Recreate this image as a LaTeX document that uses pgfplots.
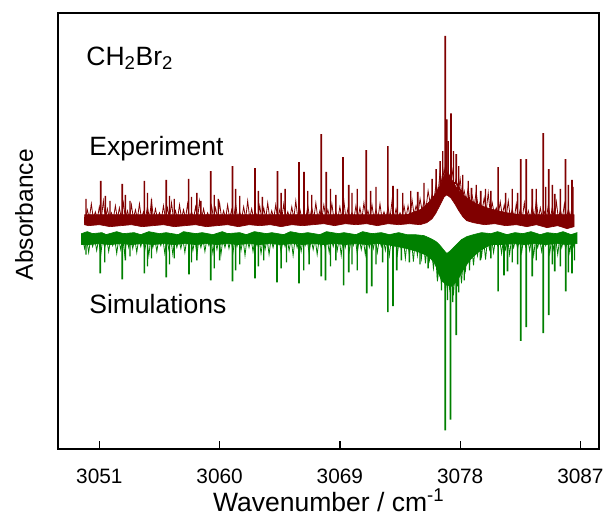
\documentclass[border=0pt]{standalone}
\usepackage{fontspec}
\setmainfont{Liberation Sans}
\usepackage{pgfplots}
\pgfplotsset{compat=1.18}
\definecolor{expred}{RGB}{128,0,0}
\definecolor{simgreen}{RGB}{0,128,0}
\begin{document}
\begin{tikzpicture}
\begin{axis}[
  scale only axis, width=408pt, height=329pt,
  xmin=3047.93, xmax=3088.4, ymin=0, ymax=438.7,
  xtick={3051,3060,3069,3078,3087}, ytick=\empty,
  xtick pos=bottom, tick align=inside,
  major tick length=6pt,
  every tick/.style={black, line width=1pt},
  axis line style={line width=1.3pt},
  /pgf/number format/assume math mode=true,
  /pgf/number format/1000 sep={},
  xticklabel style={font=\fontsize{15.7}{18}\selectfont, yshift=-11pt},
  xlabel={Wavenumber / cm\textsuperscript{-1}},
  xlabel style={font=\fontsize{20}{24}\selectfont, at={(axis description cs:0.5,-0.1436)}, anchor=base},
  ylabel={Absorbance},
  ylabel style={font=\fontsize{18.5}{22}\selectfont, at={(axis description cs:-0.0472,0.538)}, anchor=base},
]
% Experiment: core band
\addplot[draw=expred, fill=expred, line width=0.5pt] coordinates {
(3049.88,226) (3049.9,236) (3074.0,236) (3074.4,238) (3075.0,241) (3075.5,246) (3076.0,254) (3076.4,262) (3076.7,272) (3076.9,278) (3077.2,276) (3077.5,268) (3077.9,260) (3078.3,255) (3078.8,250) (3079.4,246) (3080.0,243) (3080.8,240) (3081.5,238) (3082.5,236) (3086.52,236)
(3086.52,224) (3086.0,222) (3085.3,225) (3084.5,223) (3083.7,226) (3083.0,224) (3082.2,226) (3081.4,225) (3080.6,227) (3079.8,226) (3079.0,228) (3078.5,230) (3078.2,234) (3077.9,240) (3077.6,247) (3077.3,253) (3077.0,256) (3076.8,254) (3076.5,246) (3076.2,238) (3075.9,232) (3075.5,228) (3075.0,226) (3074.2,227) (3073.4,226) (3072.6,227) (3071.8,225) (3071.0,227) (3070.2,226) (3069.4,227) (3068.6,225) (3067.8,227) (3067.0,226) (3066.2,225) (3065.4,226) (3064.6,224) (3063.8,226) (3063.0,225) (3062.2,226) (3061.4,224) (3060.6,226) (3059.8,225) (3059.0,224) (3058.2,226) (3057.4,225) (3056.6,224) (3055.8,226) (3055.0,225) (3054.2,224) (3053.4,226) (3052.6,225) (3051.8,224) (3051.0,226) (3050.2,225) (3049.88,226)
};
% Experiment: noise
\addplot[draw=expred, line width=0.6pt] coordinates {
(3049.95,232) (3050.10,241) (3050.25,232) (3050.40,247) (3050.55,232) (3050.70,239) (3050.85,232) (3051.00,244) (3051.15,232) (3051.30,250) (3051.45,232) (3051.60,242) (3051.75,232) (3051.90,238) (3052.05,232) (3052.20,245) (3052.35,232) (3052.50,243) (3052.65,232) (3052.80,248) (3052.95,232) (3053.10,240) (3053.25,232) (3053.40,246) (3053.55,232) (3053.70,241) (3053.85,232) (3054.00,247) (3054.15,232) (3054.30,239) (3054.45,232) (3054.60,244) (3054.75,232) (3054.90,250) (3055.05,232) (3055.20,242) (3055.35,232) (3055.50,238) (3055.65,232) (3055.80,245) (3055.95,232) (3056.10,243) (3056.25,232) (3056.40,248) (3056.55,232) (3056.70,240) (3056.85,232) (3057.00,246) (3057.15,232) (3057.30,241) (3057.45,232) (3057.60,247) (3057.75,232) (3057.90,239) (3058.05,232) (3058.20,244) (3058.35,232) (3058.50,250) (3058.65,232) (3058.80,242) (3058.95,232) (3059.10,238) (3059.25,232) (3059.40,245) (3059.55,232) (3059.70,243) (3059.85,232) (3060.00,248) (3060.15,232) (3060.30,240) (3060.45,232) (3060.60,246) (3060.75,232) (3060.90,241) (3061.05,232) (3061.20,247) (3061.35,232) (3061.50,239) (3061.65,232) (3061.80,244) (3061.95,232) (3062.10,250) (3062.25,232) (3062.40,242) (3062.55,232) (3062.70,238) (3062.85,232) (3063.00,245) (3063.15,232) (3063.30,243) (3063.45,232) (3063.60,248) (3063.75,232) (3063.90,240) (3064.05,232) (3064.20,246) (3064.35,232) (3064.50,241) (3064.65,232) (3064.80,247) (3064.95,232) (3065.10,239) (3065.25,232) (3065.40,244) (3065.55,232) (3065.70,250) (3065.85,232) (3066.00,242) (3066.15,232) (3066.30,238) (3066.45,232) (3066.60,245) (3066.75,232) (3066.90,243) (3067.05,232) (3067.20,248) (3067.35,232) (3067.50,240) (3067.65,232) (3067.80,246) (3067.95,232) (3068.10,241) (3068.25,232) (3068.40,247) (3068.55,232) (3068.70,239) (3068.85,232) (3069.00,244) (3069.15,232) (3069.30,250) (3069.45,232) (3069.60,242) (3069.75,232) (3069.90,238) (3070.05,232) (3070.20,245) (3070.35,232) (3070.50,243) (3070.65,232) (3070.80,248) (3070.95,232) (3071.10,240) (3071.25,232) (3071.40,246) (3071.55,232) (3071.70,241) (3071.85,232) (3072.00,247) (3072.15,232) (3072.30,239) (3072.45,232) (3072.60,244) (3072.75,232) (3072.90,250) (3073.05,232) (3073.20,242) (3073.35,232) (3073.50,238) (3073.65,232) (3073.80,245) (3073.95,233) (3074.10,245) (3074.25,234) (3074.40,251) (3074.55,236) (3074.70,245) (3074.85,237) (3075.00,252) (3075.15,240) (3075.30,250) (3075.45,243) (3075.60,260) (3075.75,248) (3075.90,256) (3076.05,252) (3076.20,267) (3076.35,258) (3076.50,280) (3076.65,266) (3076.80,282) (3076.95,272) (3077.10,280) (3077.25,270) (3077.40,281) (3077.55,264) (3077.70,272) (3077.85,258) (3078.00,272) (3078.15,253) (3078.30,260) (3078.45,250) (3078.60,263) (3078.75,247) (3078.90,255) (3079.05,245) (3079.20,259) (3079.35,243) (3079.50,249) (3079.65,241) (3079.80,253) (3079.95,240) (3080.10,258) (3080.25,238) (3080.40,248) (3080.55,237) (3080.70,243) (3080.85,236) (3081.00,249) (3081.15,235) (3081.30,246) (3081.45,234) (3081.60,250) (3081.75,233) (3081.90,242) (3082.05,232) (3082.20,247) (3082.35,232) (3082.50,242) (3082.65,232) (3082.80,248) (3082.95,232) (3083.10,240) (3083.25,232) (3083.40,245) (3083.55,232) (3083.70,251) (3083.85,232) (3084.00,243) (3084.15,232) (3084.30,239) (3084.45,232) (3084.60,246) (3084.75,232) (3084.90,244) (3085.05,232) (3085.20,249) (3085.35,232) (3085.50,241) (3085.65,232) (3085.80,247) (3085.95,232) (3086.10,242) (3086.25,232) (3086.40,248)
};
% Experiment: smaller lines
\addplot[draw=expred, line width=1pt] coordinates {
(3050.0,234) (3050.0,252) (3050.0,234) (3051.45,234) (3051.45,255) (3051.45,234) (3051.8,234) (3051.8,250) (3051.8,234) (3052.95,234) (3052.95,256) (3052.95,234) (3053.3,234) (3053.3,250) (3053.3,234) (3054.6,234) (3054.6,258) (3054.6,234) (3054.9,234) (3054.9,252) (3054.9,234) (3056.25,234) (3056.25,255) (3056.25,234) (3056.6,234) (3056.6,252) (3056.6,234) (3057.9,234) (3057.9,254) (3057.9,234) (3058.3,234) (3058.3,258) (3058.3,234) (3058.6,234) (3058.6,250) (3058.6,234) (3059.6,234) (3059.6,256) (3059.6,234) (3059.9,234) (3059.9,252) (3059.9,234) (3061.2,234) (3061.2,262) (3061.2,234) (3061.5,234) (3061.5,255) (3061.5,234) (3062.9,234) (3062.9,260) (3062.9,234) (3063.2,234) (3063.2,254) (3063.2,234) (3064.6,234) (3064.6,258) (3064.6,234) (3064.9,234) (3064.9,262) (3064.9,234) (3066.6,234) (3066.6,260) (3066.6,234) (3066.9,234) (3066.9,256) (3066.9,234) (3068.3,234) (3068.3,262) (3068.3,234) (3068.7,234) (3068.7,256) (3068.7,234) (3069.9,234) (3069.9,258) (3069.9,234) (3070.3,234) (3070.3,262) (3070.3,234) (3071.3,234) (3071.3,260) (3071.3,234) (3071.7,234) (3071.7,264) (3071.7,234) (3073.3,234) (3073.3,262) (3073.3,234) (3073.7,234) (3073.7,258) (3073.7,234) (3074.3,234) (3074.3,260) (3074.3,234) (3075.3,240) (3075.3,268) (3075.3,240) (3075.9,248) (3075.9,272) (3075.9,248) (3076.2,255) (3076.2,282) (3076.2,255) (3076.5,262) (3076.5,290) (3076.5,262) (3076.7,266) (3076.7,300) (3076.7,266) (3077.1,268) (3077.1,310) (3077.1,268) (3077.5,266) (3077.5,300) (3077.5,266) (3077.9,258) (3077.9,285) (3077.9,258) (3078.2,252) (3078.2,276) (3078.2,252) (3078.6,245) (3078.6,270) (3078.6,245) (3079.2,240) (3079.2,266) (3079.2,240) (3079.9,234) (3079.9,262) (3079.9,234) (3080.3,234) (3080.3,260) (3080.3,234) (3081.4,234) (3081.4,258) (3081.4,234) (3081.9,234) (3081.9,262) (3081.9,234) (3082.3,234) (3082.3,258) (3082.3,234) (3083.7,234) (3083.7,262) (3083.7,234) (3084.4,234) (3084.4,264) (3084.4,234) (3084.9,234) (3084.9,266) (3084.9,234) (3085.5,234) (3085.5,262) (3085.5,234) (3086.1,234) (3086.1,266) (3086.1,234) (3086.45,234) (3086.45,264) (3086.45,234)
};
% Experiment: main lines
\addplot[draw=expred, line width=1.3pt] coordinates {
(3051.10,234) (3051.10,270) (3051.10,234) (3052.71,234) (3052.71,267) (3052.71,234) (3054.37,234) (3054.37,270) (3054.37,234) (3056.01,234) (3056.01,271) (3056.01,234) (3057.68,234) (3057.68,272) (3057.68,234) (3059.34,234) (3059.34,280) (3059.34,234) (3060.96,234) (3060.96,285) (3060.96,234) (3062.64,234) (3062.64,283) (3062.64,234) (3064.33,234) (3064.33,280) (3064.33,234) (3065.94,234) (3065.94,289) (3065.94,234) (3066.32,234) (3066.32,279) (3066.32,234) (3067.60,234) (3067.60,317) (3067.60,234) (3067.98,234) (3067.98,279) (3067.98,234) (3069.24,234) (3069.24,294) (3069.24,234) (3069.67,234) (3069.67,266) (3069.67,234) (3070.98,234) (3070.98,301) (3070.98,234) (3072.59,234) (3072.59,305) (3072.59,234) (3072.97,234) (3072.97,265) (3072.97,234) (3074.83,234) (3074.83,259) (3074.83,234) (3076.89,268) (3076.89,416) (3076.89,268) (3076.99,268) (3076.99,332) (3076.99,268) (3077.31,268) (3077.31,338) (3077.31,268) (3077.71,268) (3077.71,297) (3077.71,268) (3078.85,240) (3078.85,263) (3078.85,240) (3079.54,234) (3079.54,260) (3079.54,234) (3080.84,234) (3080.84,284) (3080.84,234) (3082.53,234) (3082.53,292) (3082.53,234) (3082.94,234) (3082.94,292) (3082.94,234) (3083.39,234) (3083.39,262) (3083.39,234) (3084.21,234) (3084.21,318) (3084.21,234) (3084.63,234) (3084.63,282) (3084.63,234) (3085.08,234) (3085.08,257) (3085.08,234) (3085.88,234) (3085.88,292) (3085.88,234) (3086.37,234) (3086.37,271) (3086.37,234)
};
% Simulation: core band
\addplot[draw=simgreen, fill=simgreen, line width=0.5pt] coordinates {
(3049.66,206) (3049.66,217) (3050.1,219) (3050.5,217) (3051.2,218) (3051.5,216) (3052.3,219) (3052.8,217) (3053.6,218) (3054.1,216) (3054.7,219) (3055.5,217) (3056.0,218) (3056.9,216) (3057.3,219) (3058.2,217) (3058.7,218) (3059.5,216) (3060.2,219) (3060.6,217) (3061.5,218) (3062.0,216) (3062.6,219) (3063.5,217) (3063.9,218) (3064.8,216) (3065.3,219) (3066.1,217) (3066.6,218) (3067.5,216) (3068.0,219) (3068.9,217) (3069.3,218) (3070.2,216) (3070.7,219) (3071.4,217) (3072.1,218) (3072.7,216) (3073.4,218) (3074.0,216) (3074.6,216) (3075.3,215) (3075.8,212) (3076.2,209) (3076.5,205) (3076.8,200) (3077.0,197) (3077.2,199) (3077.5,203) (3077.8,207) (3078.1,211) (3078.5,214) (3079.0,216) (3079.6,218) (3080.3,217) (3080.8,219) (3081.5,216) (3082.1,218) (3082.7,217) (3083.3,219) (3084.0,216) (3084.5,218) (3085.2,217) (3085.7,219) (3086.3,216) (3086.74,218)
(3086.74,207) (3086.0,206) (3085.2,207) (3084.4,206) (3083.6,207) (3082.8,206) (3082.0,207) (3081.2,206) (3080.4,206) (3079.8,203) (3079.3,198) (3078.7,190) (3078.2,180) (3077.8,170) (3077.4,164) (3077.0,165) (3076.6,170) (3076.1,187) (3075.6,195) (3074.8,199) (3074.0,202) (3073.3,204) (3072.5,206) (3071.8,207) (3071.0,206) (3070.2,207) (3069.4,206) (3068.6,207) (3067.8,206) (3067.0,207) (3066.2,206) (3065.4,207) (3064.6,206) (3063.8,207) (3063.0,206) (3062.2,207) (3061.4,206) (3060.6,207) (3059.8,206) (3059.0,207) (3058.2,206) (3057.4,207) (3056.6,206) (3055.8,207) (3055.0,206) (3054.2,207) (3053.4,206) (3052.6,207) (3051.8,206) (3051.0,207) (3050.2,206) (3049.66,206)
};
% Simulation: noise
\addplot[draw=simgreen, line width=0.6pt] coordinates {
(3049.75,212) (3049.90,202) (3050.05,212) (3050.20,198) (3050.35,212) (3050.50,204) (3050.65,212) (3050.80,200) (3050.95,212) (3051.10,195) (3051.25,212) (3051.40,203) (3051.55,212) (3051.70,199) (3051.85,212) (3052.00,205) (3052.15,212) (3052.30,197) (3052.45,212) (3052.60,201) (3052.75,212) (3052.90,196) (3053.05,212) (3053.20,203) (3053.35,212) (3053.50,202) (3053.65,212) (3053.80,198) (3053.95,212) (3054.10,204) (3054.25,212) (3054.40,200) (3054.55,212) (3054.70,195) (3054.85,212) (3055.00,203) (3055.15,212) (3055.30,199) (3055.45,212) (3055.60,205) (3055.75,212) (3055.90,197) (3056.05,212) (3056.20,201) (3056.35,212) (3056.50,196) (3056.65,212) (3056.80,203) (3056.95,212) (3057.10,202) (3057.25,212) (3057.40,198) (3057.55,212) (3057.70,204) (3057.85,212) (3058.00,200) (3058.15,212) (3058.30,195) (3058.45,212) (3058.60,203) (3058.75,212) (3058.90,199) (3059.05,212) (3059.20,205) (3059.35,212) (3059.50,197) (3059.65,212) (3059.80,201) (3059.95,212) (3060.10,196) (3060.25,212) (3060.40,203) (3060.55,212) (3060.70,202) (3060.85,212) (3061.00,198) (3061.15,212) (3061.30,204) (3061.45,212) (3061.60,200) (3061.75,212) (3061.90,195) (3062.05,212) (3062.20,203) (3062.35,212) (3062.50,199) (3062.65,212) (3062.80,205) (3062.95,212) (3063.10,197) (3063.25,212) (3063.40,201) (3063.55,212) (3063.70,196) (3063.85,212) (3064.00,203) (3064.15,212) (3064.30,202) (3064.45,212) (3064.60,198) (3064.75,212) (3064.90,204) (3065.05,212) (3065.20,200) (3065.35,212) (3065.50,195) (3065.65,212) (3065.80,203) (3065.95,212) (3066.10,199) (3066.25,212) (3066.40,205) (3066.55,212) (3066.70,197) (3066.85,212) (3067.00,201) (3067.15,212) (3067.30,196) (3067.45,212) (3067.60,203) (3067.75,212) (3067.90,202) (3068.05,212) (3068.20,198) (3068.35,212) (3068.50,204) (3068.65,212) (3068.80,200) (3068.95,212) (3069.10,195) (3069.25,212) (3069.40,203) (3069.55,212) (3069.70,199) (3069.85,212) (3070.00,205) (3070.15,212) (3070.30,197) (3070.45,212) (3070.60,201) (3070.75,212) (3070.90,196) (3071.05,212) (3071.20,203) (3071.35,212) (3071.50,202) (3071.65,212) (3071.80,198) (3071.95,212) (3072.10,204) (3072.25,212) (3072.40,200) (3072.55,212) (3072.70,195) (3072.85,212) (3073.00,201) (3073.15,212) (3073.30,196) (3073.45,212) (3073.60,201) (3073.75,212) (3073.90,192) (3074.05,212) (3074.20,195) (3074.35,212) (3074.50,189) (3074.65,212) (3074.80,195) (3074.95,212) (3075.10,192) (3075.25,212) (3075.40,187) (3075.55,207) (3075.70,190) (3075.85,203) (3076.00,182) (3076.15,198) (3076.30,169) (3076.45,190) (3076.60,166) (3076.75,185) (3076.90,158) (3077.05,182) (3077.20,162) (3077.35,182) (3077.50,155) (3077.65,186) (3077.80,164) (3077.95,190) (3078.10,167) (3078.25,196) (3078.40,180) (3078.55,202) (3078.70,185) (3078.85,206) (3079.00,185) (3079.15,209) (3079.30,195) (3079.45,211) (3079.60,194) (3079.75,212) (3079.90,191) (3080.05,212) (3080.20,201) (3080.35,212) (3080.50,198) (3080.65,212) (3080.80,205) (3080.95,212) (3081.10,197) (3081.25,212) (3081.40,201) (3081.55,212) (3081.70,196) (3081.85,212) (3082.00,203) (3082.15,212) (3082.30,202) (3082.45,212) (3082.60,198) (3082.75,212) (3082.90,204) (3083.05,212) (3083.20,200) (3083.35,212) (3083.50,195) (3083.65,212) (3083.80,203) (3083.95,212) (3084.10,199) (3084.25,212) (3084.40,205) (3084.55,212) (3084.70,197) (3084.85,212) (3085.00,201) (3085.15,212) (3085.30,196) (3085.45,212) (3085.60,203) (3085.75,212) (3085.90,202) (3086.05,212) (3086.20,198) (3086.35,212) (3086.50,204) (3086.65,212)
};
% Simulation: smaller lines
\addplot[draw=simgreen, line width=1pt] coordinates {
(3050.0,210) (3050.0,196) (3050.0,210) (3051.4,210) (3051.4,188) (3051.4,210) (3052.95,210) (3052.95,190) (3052.95,210) (3053.3,210) (3053.3,194) (3053.3,210) (3054.6,210) (3054.6,184) (3054.6,210) (3054.9,210) (3054.9,192) (3054.9,210) (3056.25,210) (3056.25,186) (3056.25,210) (3056.6,210) (3056.6,192) (3056.6,210) (3057.9,210) (3057.9,188) (3057.9,210) (3058.3,210) (3058.3,190) (3058.3,210) (3059.6,210) (3059.6,182) (3059.6,210) (3060.0,210) (3060.0,190) (3060.0,210) (3061.2,210) (3061.2,180) (3061.2,210) (3061.5,210) (3061.5,186) (3061.5,210) (3062.9,210) (3062.9,184) (3062.9,210) (3063.3,210) (3063.3,190) (3063.3,210) (3064.6,210) (3064.6,182) (3064.6,210) (3065.0,210) (3065.0,188) (3065.0,210) (3066.3,210) (3066.3,180) (3066.3,210) (3066.7,210) (3066.7,186) (3066.7,210) (3068.3,210) (3068.3,184) (3068.3,210) (3068.7,210) (3068.7,190) (3068.7,210) (3069.9,210) (3069.9,186) (3069.9,210) (3070.3,210) (3070.3,180) (3070.3,210) (3071.7,210) (3071.7,186) (3071.7,210) (3072.2,210) (3072.2,188) (3072.2,210) (3073.6,210) (3073.6,190) (3073.6,210) (3074.2,208) (3074.2,188) (3074.2,208) (3075.0,205) (3075.0,186) (3075.0,205) (3075.6,200) (3075.6,182) (3075.6,200) (3076.3,192) (3076.3,172) (3076.3,192) (3076.6,186) (3076.6,160) (3076.6,186) (3077.05,182) (3077.05,150) (3077.05,182) (3077.45,182) (3077.45,148) (3077.45,182) (3077.9,186) (3077.9,158) (3077.9,186) (3078.3,192) (3078.3,170) (3078.3,192) (3078.7,198) (3078.7,180) (3078.7,198) (3079.5,206) (3079.5,190) (3079.5,206) (3080.3,210) (3080.3,192) (3080.3,210) (3081.9,210) (3081.9,188) (3081.9,210) (3082.3,210) (3082.3,186) (3082.3,210) (3083.7,210) (3083.7,190) (3083.7,210) (3084.9,210) (3084.9,186) (3084.9,210) (3085.5,210) (3085.5,184) (3085.5,210) (3086.1,210) (3086.1,178) (3086.1,210) (3086.55,210) (3086.55,190) (3086.55,210)
};
% Simulation: main lines
\addplot[draw=simgreen, line width=1.3pt] coordinates {
(3051.07,212) (3051.07,177) (3051.07,212) (3052.71,212) (3052.71,171) (3052.71,212) (3054.37,212) (3054.37,177) (3054.37,212) (3056.01,212) (3056.01,173) (3056.01,212) (3057.71,212) (3057.71,176) (3057.71,212) (3059.34,212) (3059.34,170) (3059.34,212) (3060.96,212) (3060.96,169) (3060.96,212) (3062.64,212) (3062.64,172) (3062.64,212) (3064.30,212) (3064.30,168) (3064.30,212) (3065.94,212) (3065.94,167) (3065.94,212) (3067.60,212) (3067.60,174) (3067.60,212) (3067.92,212) (3067.92,170) (3067.92,212) (3069.28,212) (3069.28,165) (3069.28,212) (3069.67,212) (3069.67,178) (3069.67,212) (3071.01,212) (3071.01,157) (3071.01,212) (3071.38,212) (3071.38,164) (3071.38,212) (3072.59,212) (3072.59,138) (3072.59,212) (3072.97,212) (3072.97,144) (3072.97,212) (3073.26,212) (3073.26,180) (3073.26,212) (3076.89,185) (3076.89,19) (3076.89,185) (3077.28,185) (3077.28,30) (3077.28,185) (3077.71,185) (3077.71,115) (3077.71,185) (3080.84,212) (3080.84,159) (3080.84,212) (3081.28,212) (3081.28,175) (3081.28,212) (3081.55,212) (3081.55,179) (3081.55,212) (3082.54,212) (3082.54,109) (3082.54,212) (3082.94,212) (3082.94,123) (3082.94,212) (3083.39,212) (3083.39,174) (3083.39,212) (3084.21,212) (3084.21,117) (3084.21,212) (3084.63,212) (3084.63,135) (3084.63,212) (3085.08,212) (3085.08,179) (3085.08,212) (3085.90,212) (3085.90,159) (3085.90,212) (3086.37,212) (3086.37,177) (3086.37,212)
};
\node[anchor=base west, inner sep=0pt, font=\fontsize{20}{24}\selectfont] at (axis cs:3050.01,386) {CH\textsubscript{2}Br\textsubscript{2}};
\node[anchor=base west, inner sep=0pt, font=\fontsize{20}{24}\selectfont] at (axis cs:3050.23,296) {Experiment};
\node[anchor=base west, inner sep=0pt, font=\fontsize{20}{24}\selectfont] at (axis cs:3050.23,137) {Simulations};
\end{axis}
\path ([xshift=-44pt,yshift=-49.5pt]current axis.south west) rectangle ([xshift=4.1pt,yshift=10pt]current axis.north east);
\end{tikzpicture}
\end{document}
